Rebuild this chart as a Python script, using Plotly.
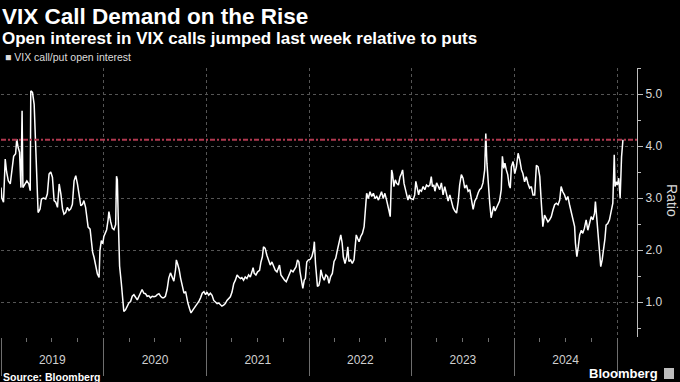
import plotly.graph_objects as go

# ---------------- data ----------------
dates = [
    "2019-01-01", "2019-01-04", "2019-01-10", "2019-01-12", "2019-01-16", "2019-01-21", "2019-01-27",
    "2019-02-03", "2019-02-09", "2019-02-15", "2019-02-22", "2019-02-26", "2019-03-03", "2019-03-08",
    "2019-03-13", "2019-03-17", "2019-03-20", "2019-03-27", "2019-04-03", "2019-04-10", "2019-04-15",
    "2019-04-17", "2019-04-23", "2019-04-29", "2019-05-04", "2019-05-08", "2019-05-13", "2019-05-20",
    "2019-05-25", "2019-06-01", "2019-06-09", "2019-06-15", "2019-06-21", "2019-06-27", "2019-07-03",
    "2019-07-09", "2019-07-15", "2019-07-21", "2019-07-27", "2019-08-02", "2019-08-08", "2019-08-13",
    "2019-08-19", "2019-08-25", "2019-08-31", "2019-09-06", "2019-09-12", "2019-09-18", "2019-09-24",
    "2019-09-30", "2019-10-06", "2019-10-12", "2019-10-18", "2019-10-23", "2019-10-29", "2019-11-02",
    "2019-11-07", "2019-11-14", "2019-11-18", "2019-11-23", "2019-11-28", "2019-12-04", "2019-12-10",
    "2019-12-16", "2019-12-19", "2019-12-24", "2019-12-29",
    "2020-01-02", "2020-01-12", "2020-01-17", "2020-01-20", "2020-01-26", "2020-02-01", "2020-02-07",
    "2020-02-13", "2020-02-16", "2020-02-19", "2020-02-22", "2020-02-27", "2020-03-04", "2020-03-09",
    "2020-03-13", "2020-03-19", "2020-03-25", "2020-03-31", "2020-04-06", "2020-04-12", "2020-04-18",
    "2020-04-24", "2020-04-30", "2020-05-06", "2020-05-12", "2020-05-17", "2020-05-23", "2020-05-29",
    "2020-06-04", "2020-06-10", "2020-06-16", "2020-06-22", "2020-06-28", "2020-07-04", "2020-07-10",
    "2020-07-16", "2020-07-22", "2020-07-28", "2020-08-02", "2020-08-08", "2020-08-14", "2020-08-20",
    "2020-08-26", "2020-09-01", "2020-09-07", "2020-09-13", "2020-09-16", "2020-09-21", "2020-09-26",
    "2020-10-01", "2020-10-07", "2020-10-13", "2020-10-19", "2020-10-22", "2020-10-27", "2020-11-02",
    "2020-11-07", "2020-11-14", "2020-11-23", "2020-11-29", "2020-12-05", "2020-12-11", "2020-12-17",
    "2020-12-23", "2020-12-29",
    "2021-01-03", "2021-01-09", "2021-01-15", "2021-01-21", "2021-01-27", "2021-02-02", "2021-02-08",
    "2021-02-14", "2021-02-20", "2021-02-25", "2021-03-03", "2021-03-09", "2021-03-15", "2021-03-21",
    "2021-03-27", "2021-04-02", "2021-04-08", "2021-04-14", "2021-04-20", "2021-04-26", "2021-05-02",
    "2021-05-07", "2021-05-13", "2021-05-19", "2021-05-25", "2021-05-31", "2021-06-06", "2021-06-12",
    "2021-06-16", "2021-06-20", "2021-06-26", "2021-07-02", "2021-07-09", "2021-07-14", "2021-07-19",
    "2021-07-23", "2021-07-29", "2021-08-04", "2021-08-10", "2021-08-16", "2021-08-22", "2021-08-28",
    "2021-09-03", "2021-09-09", "2021-09-15", "2021-09-18", "2021-09-23", "2021-09-30", "2021-10-06",
    "2021-10-12", "2021-10-17", "2021-10-23", "2021-10-29", "2021-11-05", "2021-11-10", "2021-11-16",
    "2021-11-21", "2021-11-26", "2021-11-30", "2021-12-06", "2021-12-10", "2021-12-15", "2021-12-19",
    "2021-12-24", "2021-12-30",
    "2022-01-05", "2022-01-11", "2022-01-17", "2022-01-20", "2022-01-24", "2022-01-28", "2022-01-31",
    "2022-02-05", "2022-02-09", "2022-02-12", "2022-02-18", "2022-02-24", "2022-03-02", "2022-03-08",
    "2022-03-13", "2022-03-19", "2022-03-25", "2022-03-31", "2022-04-06", "2022-04-12", "2022-04-19",
    "2022-04-24", "2022-04-29", "2022-05-03", "2022-05-09", "2022-05-15", "2022-05-19", "2022-05-23",
    "2022-05-29", "2022-06-04", "2022-06-10", "2022-06-14", "2022-06-18", "2022-06-23", "2022-06-28",
    "2022-07-04", "2022-07-10", "2022-07-16", "2022-07-20", "2022-07-25", "2022-07-31", "2022-08-06",
    "2022-08-12", "2022-08-18", "2022-08-24", "2022-08-30", "2022-09-05", "2022-09-11", "2022-09-16",
    "2022-09-22", "2022-09-28", "2022-10-04", "2022-10-08", "2022-10-12", "2022-10-17", "2022-10-22",
    "2022-10-25", "2022-10-30", "2022-11-04", "2022-11-09", "2022-11-15", "2022-11-21", "2022-11-26",
    "2022-11-30", "2022-12-05", "2022-12-09", "2022-12-14", "2022-12-19", "2022-12-24", "2022-12-28",
    "2023-01-07", "2023-01-12", "2023-01-16", "2023-01-21", "2023-01-26", "2023-01-30", "2023-02-05",
    "2023-02-11", "2023-02-17", "2023-02-23", "2023-03-01", "2023-03-07", "2023-03-12", "2023-03-16",
    "2023-03-21", "2023-03-25", "2023-03-31", "2023-04-06", "2023-04-11", "2023-04-17", "2023-04-23",
    "2023-04-29", "2023-05-05", "2023-05-11", "2023-05-17", "2023-05-23", "2023-05-29", "2023-06-04",
    "2023-06-10", "2023-06-16", "2023-06-21", "2023-06-27", "2023-07-03", "2023-07-09", "2023-07-15",
    "2023-07-21", "2023-07-27", "2023-08-02", "2023-08-08", "2023-08-14", "2023-08-20", "2023-08-26",
    "2023-08-31", "2023-09-06", "2023-09-12", "2023-09-18", "2023-09-22", "2023-09-26", "2023-10-01",
    "2023-10-06", "2023-10-11", "2023-10-15", "2023-10-20", "2023-10-25", "2023-10-30", "2023-11-05",
    "2023-11-10", "2023-11-16", "2023-11-20", "2023-11-25", "2023-11-29", "2023-12-04", "2023-12-09",
    "2023-12-14", "2023-12-18", "2023-12-22", "2023-12-28",
    "2024-01-03", "2024-01-09", "2024-01-15", "2024-01-21", "2024-01-27", "2024-02-01", "2024-02-07",
    "2024-02-13", "2024-02-19", "2024-02-25", "2024-03-02", "2024-03-08", "2024-03-14", "2024-03-20",
    "2024-03-26", "2024-04-01", "2024-04-06", "2024-04-12", "2024-04-18", "2024-04-24", "2024-04-30",
    "2024-05-06", "2024-05-12", "2024-05-18", "2024-05-24", "2024-05-30", "2024-06-05", "2024-06-11",
    "2024-06-16", "2024-06-22", "2024-06-28", "2024-07-04", "2024-07-10", "2024-07-16", "2024-07-22",
    "2024-07-28", "2024-08-03", "2024-08-06", "2024-08-11", "2024-08-16", "2024-08-21", "2024-08-27",
    "2024-09-01", "2024-09-07", "2024-09-13", "2024-09-19", "2024-09-25", "2024-10-01", "2024-10-07",
    "2024-10-13", "2024-10-16", "2024-10-21", "2024-10-26", "2024-10-31", "2024-11-04", "2024-11-09",
    "2024-11-14", "2024-11-19", "2024-11-23", "2024-11-29", "2024-12-05", "2024-12-11", "2024-12-17",
    "2024-12-22", "2024-12-25", "2024-12-29",
    "2025-01-02", "2025-01-07", "2025-01-12", "2025-01-17", "2025-01-22",
]

ratio = [
    3.2, 3.0, 2.92, 3.33, 3.75, 3.5, 3.33,
    3.27, 3.6, 3.8, 3.85, 4.13, 3.97, 3.88,
    3.2, 4.68, 3.2, 3.27, 3.33, 3.27, 3.14,
    5.06, 5.03, 4.8, 3.97, 3.14, 2.72, 2.79,
    2.98, 3.0, 2.98, 3.08, 3.46, 3.5, 3.4,
    2.95, 2.92, 2.82, 3.27, 3.08, 2.79, 2.69,
    2.72, 2.82, 2.76, 2.79, 2.88, 3.33, 3.43,
    3.27, 3.01, 2.85, 2.88, 2.95, 2.82, 2.6,
    2.44, 2.4, 2.18, 1.96, 1.86, 1.7, 1.54,
    1.47, 1.99, 2.18, 2.12,
    2.26, 2.39, 2.58, 2.74, 2.55, 2.42, 2.39,
    2.49, 3.42, 3.35, 2.65, 1.69, 1.37, 0.98,
    0.82, 0.85, 0.92, 0.98, 1.01, 1.11, 1.14,
    1.08, 1.04, 1.11, 1.17, 1.24, 1.17, 1.16,
    1.11, 1.12, 1.08, 1.11, 1.1, 1.11, 1.14,
    1.16, 1.11, 1.08, 1.08, 1.11, 1.24, 1.46,
    1.56, 1.46, 1.4, 1.62, 1.81, 1.72, 1.62,
    1.46, 1.3, 1.17, 1.2, 1.08, 0.98, 0.87,
    0.79, 0.85, 0.92, 0.95, 1.01, 1.08, 1.17,
    1.2, 1.14,
    1.19, 1.13, 1.17, 1.13, 1.03, 1.0, 0.97,
    0.98, 0.94, 0.92, 0.94, 0.97, 1.03, 1.06,
    1.1, 1.19, 1.35, 1.42, 1.52, 1.48, 1.45,
    1.47, 1.42, 1.48, 1.45, 1.52, 1.48, 1.58,
    1.66, 1.55, 1.52, 1.58, 1.61, 1.77, 1.87,
    2.06, 2.03, 1.9, 1.81, 1.71, 1.77, 1.68,
    1.61, 1.58, 1.65, 1.71, 1.52, 1.45, 1.42,
    1.39, 1.45, 1.52, 1.61, 1.58, 1.63, 1.68,
    1.81, 1.77, 1.58, 1.42, 1.26, 1.42, 1.45,
    1.77, 1.81,
    1.82, 1.87, 2.0, 2.16, 1.74, 1.35, 1.3,
    1.32, 1.42, 1.62, 1.49, 1.42, 1.52, 1.49,
    1.36, 1.49, 1.55, 1.78, 1.84, 2.0, 2.16,
    2.29, 2.13, 1.87, 1.74, 1.87, 2.06, 1.78,
    1.81, 1.74, 1.81, 2.06, 2.29, 2.22, 2.16,
    2.26, 2.32, 2.45, 2.77, 3.09, 2.99, 3.12,
    3.03, 3.09, 2.99, 3.03, 2.96, 3.03, 3.12,
    2.99, 3.09, 2.96, 2.83, 2.77, 2.64, 3.54,
    3.47, 3.22, 3.35, 3.28, 3.25, 3.41, 3.47,
    3.54, 3.28, 3.19, 3.12, 2.96, 3.06, 2.99,
    2.97, 3.06, 3.32, 3.19, 3.06, 3.16, 3.13,
    3.22, 3.16, 3.25, 3.22, 3.25, 3.41, 3.22,
    3.25, 3.13, 3.29, 3.22, 3.16, 3.29, 3.06,
    3.22, 3.1, 2.94, 3.06, 2.9, 2.81, 2.75,
    2.71, 2.94, 3.25, 3.45, 3.38, 3.19, 3.25,
    3.13, 3.16, 2.97, 2.78, 2.94, 3.0, 3.1,
    3.16, 3.19, 3.29, 3.54, 4.24, 3.67, 3.22,
    2.9, 2.62, 2.71, 2.84, 2.75, 2.81, 2.87,
    2.94, 3.16, 3.8, 3.57, 3.67, 3.54, 3.45,
    3.25, 3.19, 3.6, 3.7,
    3.47, 3.6, 3.86, 3.73, 3.54, 3.47, 3.31,
    3.41, 3.28, 3.19, 3.22, 3.06, 3.06, 3.63,
    3.6, 3.41, 2.96, 2.45, 2.67, 2.61, 2.54,
    2.58, 2.64, 2.77, 2.87, 2.9, 2.87, 2.96,
    3.22, 3.12, 3.06, 2.96, 3.03, 2.87, 2.74,
    2.58, 2.45, 2.13, 1.87, 2.06, 2.29, 2.38,
    2.32, 2.42, 2.58, 2.38, 2.51, 2.64, 2.58,
    2.71, 2.93, 2.64, 2.32, 2.0, 1.68, 1.81,
    2.0, 2.22, 2.48, 2.51, 2.58, 2.77, 2.9,
    3.83, 3.22, 3.31,
    3.25, 3.38, 3.0, 3.79, 4.12,
]

latest_level = 4.12  # red dash-dot reference line
series_name = "VIX call/put open interest"
title_text = "VIX Call Demand on the Rise"
subtitle_text = "Open interest in VIX calls jumped last week relative to puts"
y_axis_title = "Ratio"
source_text = "Source: Bloomberg"
brand_text = "Bloomberg"

# ---------------- figure ----------------
SANS = "Liberation Sans, Arial, sans-serif"

fig = go.Figure()
fig.add_trace(go.Scatter(
    x=dates, y=ratio, mode="lines", name=series_name,
    line=dict(color="#ffffff", width=1.5), showlegend=False,
))
fig.add_hline(y=latest_level, line=dict(color="#b0384f", width=2, dash="5px,2px,2px,2px"))

fig.update_layout(
    width=680, height=382,
    paper_bgcolor="#000000", plot_bgcolor="#000000",
    margin=dict(l=1, r=43, t=68, b=45),
    showlegend=False,
    font=dict(family=SANS, color="#e6e6e6"),
    xaxis=dict(
        type="date", range=["2019-01-01", "2025-03-13"],
        tick0="2019-01-01", dtick="M12", tickformat="%Y", ticklabelmode="period",
        ticks="outside", ticklen=38, tickcolor="#6e6e6e", tickwidth=1,
        ticklabelstandoff=-26,
        showgrid=True, gridcolor="#555555", griddash="dot", gridwidth=1,
        showline=False, zeroline=False,
        tickfont=dict(family=SANS, size=12, color="#d0d0d0"),
        minor=dict(dtick="M3", ticks="outside", ticklen=4, tickcolor="#6e6e6e", showgrid=False),
    ),
    yaxis=dict(
        side="right", range=[0.327, 5.5], tick0=0, dtick=1, tickformat=".1f",
        ticks="outside", ticklen=5, tickcolor="#bdbdbd",
        showline=True, linecolor="#bdbdbd", linewidth=1,
        showgrid=True, gridcolor="#555555", griddash="dot", gridwidth=1,
        zeroline=False,
        tickfont=dict(family=SANS, size=12, color="#d9d9d9"),
        minor=dict(dtick=0.5, tick0=0, ticks="outside", ticklen=3, tickcolor="#bdbdbd", showgrid=False),
    ),
)

H = 269.0  # plot height in px
W = 636.0  # plot width in px

def py(pix):
    return (337 - pix) / H

def px(pix):
    return (pix - 1) / W

fig.add_annotation(text="<b>" + title_text + "</b>", xref="paper", yref="paper",
                   x=px(0), y=py(17), xanchor="left", yanchor="middle", showarrow=False,
                   font=dict(family=SANS, size=22.5, color="#ffffff"))
fig.add_annotation(text="<b>" + subtitle_text + "</b>", xref="paper", yref="paper",
                   x=px(0), y=py(38), xanchor="left", yanchor="middle", showarrow=False,
                   font=dict(family=SANS, size=17, color="#ffffff"))
fig.add_annotation(text="■ " + series_name, xref="paper", yref="paper",
                   x=px(3), y=py(57), xanchor="left", yanchor="middle", showarrow=False,
                   font=dict(family=SANS, size=10.5, color="#dddddd"))
fig.add_annotation(text=y_axis_title, xref="paper", yref="paper", textangle=90,
                   x=px(672), y=py(200), xanchor="center", yanchor="middle", showarrow=False,
                   font=dict(family=SANS, size=14, color="#d9d9d9"))
fig.add_annotation(text="<b>" + source_text + "</b>", xref="paper", yref="paper",
                   x=px(2), y=py(376.5), xanchor="left", yanchor="middle", showarrow=False,
                   borderpad=0,
                   font=dict(family=SANS, size=10.5, color="#ffffff"))
fig.add_annotation(text="<b>" + brand_text + "</b>", xref="paper", yref="paper",
                   x=px(660), y=py(374), xanchor="right", yanchor="middle", showarrow=False,
                   font=dict(family=SANS, size=13, color="#ffffff"))
fig.add_shape(type="rect", xref="paper", yref="paper",
              x0=px(664), x1=px(674), y0=py(368), y1=py(379),
              fillcolor="#bdbdbd", line=dict(width=0))

fig.write_html(
    "out.html",
    config={"displayModeBar": False},
    post_script="document.body.style.margin='0';document.body.style.background='#000';"
                "document.documentElement.style.background='#000';",
)
